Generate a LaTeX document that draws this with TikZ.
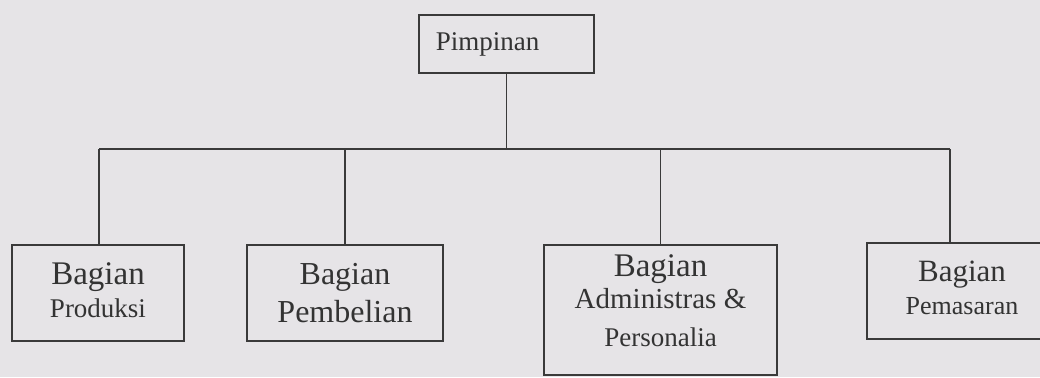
\documentclass[tikz,border=0pt]{standalone}
\usepackage{fontspec}
\setmainfont{Liberation Serif}
\definecolor{bg}{HTML}{E6E4E7}
\definecolor{ink}{HTML}{3A3A3A}
\definecolor{txt}{HTML}{333333}
\newcommand{\lowpad}[1]{\rule[-#1]{0pt}{#1}}
\begin{document}
\begin{tikzpicture}[x=1pt,y=-1pt,
  box/.style={draw=ink, line width=1.7pt, rectangle, inner sep=0pt, align=center, text=txt},
  link/.style={draw=ink, line width=1.7pt}]
\fill[bg] (0,0) rectangle (1040,377);
\useasboundingbox (0,0) rectangle (1040,377);
\clip (0,0) rectangle (1040,377);
\node[box, minimum width=175, minimum height=58] (pim) at (506.5,44) {\fontsize{27}{32}\selectfont\hspace*{-38pt}Pimpinan};
\node[box, minimum width=172, minimum height=96] (prod) at (98,293) {\fontsize{33}{32}\selectfont Bagian\\[6pt]\fontsize{27}{32}\selectfont Produksi\lowpad{6pt}};
\node[box, minimum width=196, minimum height=96] (beli) at (345,293) {\fontsize{32}{32}\selectfont Bagian\\[8pt]\fontsize{32}{32}\selectfont Pembelian};
\node[box, minimum width=233, minimum height=130] (adm) at (660.5,310) {\fontsize{33}{30}\selectfont Bagian\\[4pt]\fontsize{29}{32}\selectfont Administras \&\\[18pt]\fontsize{27}{36}\selectfont Personalia\lowpad{19pt}};
\node[box, minimum width=190, minimum height=96] (mark) at (962,291) {\fontsize{31}{32}\selectfont Bagian\\[8pt]\fontsize{26}{32}\selectfont Pemasaran\lowpad{6pt}};
\coordinate (busL) at (99,149);
\coordinate (busR) at (950,149);
\draw[link] (busL) -- (busR);
\draw[link] (pim.south) -- (pim.south |- busL);
\draw[link] (busL) -- (busL |- prod.north);
\draw[link] (beli.north |- busL) -- (beli.north);
\draw[link] (adm.north |- busL) -- (adm.north);
\draw[link] (busR) -- (busR |- mark.north);
\end{tikzpicture}
\end{document}
